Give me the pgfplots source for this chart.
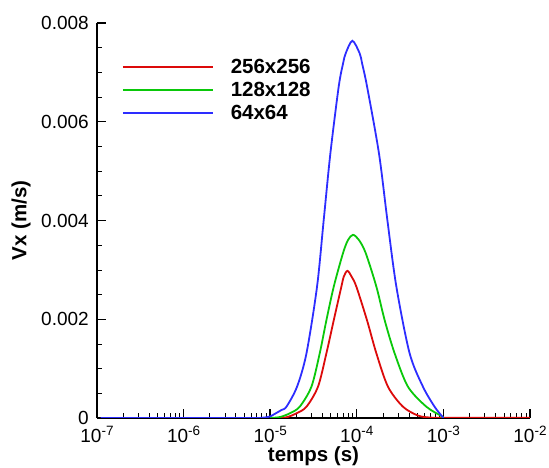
\documentclass[border=0pt]{standalone}
\usepackage{fontspec}
\setmainfont{Liberation Sans}
\usepackage{pgfplots}
\pgfplotsset{compat=1.18}
\definecolor{cred}{RGB}{220,10,10}
\definecolor{cgreen}{RGB}{10,200,10}
\definecolor{cblue}{RGB}{45,45,255}
\newcommand{\sexp}[1]{10\raisebox{7pt}{\fontsize{13.5}{14}\selectfont #1}}
\begin{document}
\begin{tikzpicture}
\path[use as bounding box] (-97pt,-50pt) rectangle (452pt,418pt);
\begin{axis}[
  at={(0pt,0pt)}, anchor=south west,
  scale only axis, width=433pt, height=395pt,
  xmode=log, xmin=1e-7, xmax=1e-2, ymin=0, ymax=0.008,
  axis x line*=bottom, axis y line*=left,
  axis line style={-, line width=1.5pt},
  tick align=inside,
  major tick length=9pt, minor tick length=5pt,
  every major tick/.append style={line width=1.4pt, black},
  every minor tick/.append style={line width=0.7pt, black},
  xtick={1e-7,1e-6,1e-5,1e-4,1e-3,1e-2},
  xticklabels={\sexp{-7},\sexp{-6},\sexp{-5},\sexp{-4},\sexp{-3},\sexp{-2}},
  minor xtick={2e-7,3e-7,4e-7,5e-7,6e-7,7e-7,8e-7,9e-7,
               2e-6,3e-6,4e-6,5e-6,6e-6,7e-6,8e-6,9e-6,
               2e-5,3e-5,4e-5,5e-5,6e-5,7e-5,8e-5,9e-5,
               2e-4,3e-4,4e-4,5e-4,6e-4,7e-4,8e-4,9e-4,
               2e-3,3e-3,4e-3,5e-3,6e-3,7e-3,8e-3,9e-3},
  ytick={0,0.002,0.004,0.006,0.008},
  yticklabels={0,0.002,0.004,0.006,0.008},
  minor y tick num=3,
  scaled y ticks=false,
  ticklabel style={font=\fontsize{19}{20}\selectfont, inner sep=0pt},
  xticklabel style={yshift=-8pt},
  yticklabel style={xshift=-8pt},
  xlabel={temps (s)}, ylabel={Vx (m/s)},
  xlabel style={font=\bfseries\fontsize{20.5}{24}\selectfont, at={([yshift=-44pt]axis description cs:0.5,0)}, anchor=base},
  ylabel style={font=\bfseries\fontsize{20.5}{24}\selectfont, at={([xshift=-76pt]axis description cs:0,0.5)}, anchor=center, rotate=0},
  legend style={draw=none, fill=none, inner sep=0pt, outer sep=0pt,
    at={(axis description cs:0,1)}, anchor=north west, xshift=25pt, yshift=-34pt,
    font=\bfseries\fontsize{20.5}{24}\selectfont,
    row sep=3.4pt,
    /tikz/every odd column/.append style={column sep=15pt}},
  legend cell align=left,
  legend image code/.code={\draw[#1] (0pt,0pt) -- (90pt,0pt);},
]
\addplot[cred, line width=1.8pt, smooth] coordinates {
(1.0e-5,0) (1.5e-5,0.00001) (2.009e-5,0.000095) (2.624e-5,0.000229)
(3.565e-5,0.000634) (4.457e-5,0.00131) (5.420e-5,0.00198) (6.637e-5,0.00266)
(7.063e-5,0.00286) (7.798e-5,0.00298) (8.73e-5,0.00286) (9.886e-5,0.00266)
(1.312e-4,0.00198) (1.683e-4,0.00131) (2.291e-4,0.000634) (3.412e-4,0.000229)
(5.082e-4,0.00005) (6.934e-4,0.00001) (1.0e-3,0.000005) (1.0e-2,0.000005)
};
\addlegendentry{256x256}
\addplot[cgreen, line width=1.8pt, smooth] coordinates {
(1.0e-5,0) (1.3e-5,0.00002) (1.683e-5,0.000095) (2.193e-5,0.000229)
(2.992e-5,0.000634) (3.733e-5,0.00131) (4.457e-5,0.00198) (5.420e-5,0.00266)
(6.934e-5,0.00334) (7.925e-5,0.003605) (9.036e-5,0.00371) (1.059e-4,0.003605)
(1.268e-4,0.00334) (1.683e-4,0.00266) (2.099e-4,0.00198) (2.735e-4,0.00131)
(3.899e-4,0.000634) (6.353e-4,0.000229) (9.462e-4,0.00004) (1.0e-3,0)
};
\addlegendentry{128x128}
\addplot[cblue, line width=1.8pt, smooth] coordinates {
(1.1e-7,0) (5e-6,0) (8e-6,0.000005) (1.0e-5,0.00003) (1.072e-5,0.00006)
(1.35e-5,0.000162) (1.542e-5,0.000229) (2.042e-5,0.000634) (2.624e-5,0.00131)
(3.475e-5,0.00266) (4.150e-5,0.00401) (4.955e-5,0.00536) (6.180e-5,0.00671)
(6.950e-5,0.007184) (7.447e-5,0.007386) (8.89e-5,0.00764) (1.079e-4,0.007386)
(1.151e-4,0.007184) (1.315e-4,0.00671) (1.803e-4,0.00536)
(2.254e-4,0.00401) (2.864e-4,0.00266) (4.074e-4,0.00131) (5.808e-4,0.000634)
(7.907e-4,0.000229) (9.70e-4,0.00003) (1.0e-3,0)
};
\addlegendentry{64x64}
\end{axis}
\end{tikzpicture}
\end{document}
